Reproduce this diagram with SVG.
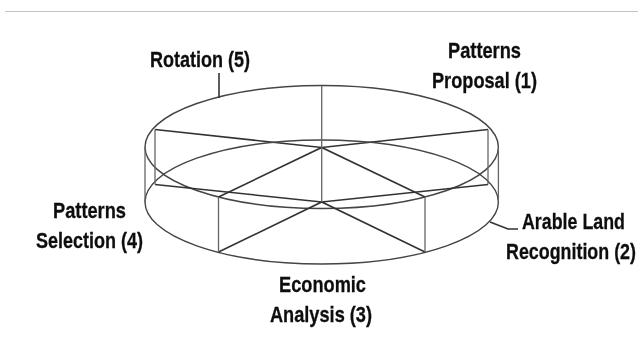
<svg xmlns="http://www.w3.org/2000/svg" width="638" height="347" viewBox="0 0 638 347">
<defs><filter id="b" x="-5%" y="-20%" width="110%" height="140%"><feGaussianBlur stdDeviation="0.45"/></filter></defs>
<style>
.l{fill:none;stroke:#444;stroke-width:1.4}
.s{fill:none;stroke:#333;stroke-width:1.6}
.v{fill:none;stroke:#666;stroke-width:1.3}
text{font-family:"Liberation Sans",Arial,sans-serif;font-weight:bold;font-size:22px;fill:#111;stroke:#111;stroke-width:0.3}
.t{filter:url(#b)}
</style>
<rect width="638" height="347" fill="#fff"/>
<line x1="5" y1="11.500" x2="638" y2="11.500" stroke="#c4c4c4" stroke-width="1"/>
<g id="connectors" filter="url(#b)">
<g id="disc-top">
<ellipse class="l" cx="321.700" cy="147" rx="176.700" ry="61.500"/>
<path class="s" d="M155 129.500L321.700 147.500L488 129.500M218.500 197L321.700 147.500L425 197"/>
</g>
<g id="disc-bottom">
<ellipse class="l" cx="321.700" cy="202" rx="176.700" ry="62"/>
<path class="s" d="M155 184.500L321.700 202L488 184.500M218.500 252L321.700 202L425 252"/>
</g>
<path class="v" d="M321.700 86V202M155 129.500V184.500M488 129.500V184.500M218.500 197V252M425 197V252M145 147V202M498.400 147V202"/>
<path class="s" d="M219 73V98M490 222L508 229H518"/>
</g>
<g id="n5" class="t"><text x="150" y="67" textLength="100" lengthAdjust="spacingAndGlyphs">Rotation (5)</text></g>
<g id="n1" class="t"><text x="448" y="58" textLength="73" lengthAdjust="spacingAndGlyphs">Patterns</text><text x="432" y="88" textLength="105" lengthAdjust="spacingAndGlyphs">Proposal (1)</text></g>
<g id="n2" class="t"><text transform="translate(522 229) scale(.82 1)" textLength="125.600" lengthAdjust="spacingAndGlyphs">Arable Land</text><text transform="translate(506 259) scale(.82 1)" textLength="158.500" lengthAdjust="spacingAndGlyphs">Recognition (2)</text></g>
<g id="n3" class="t"><text x="279" y="292" textLength="87" lengthAdjust="spacingAndGlyphs">Economic</text><text x="270" y="322" textLength="102" lengthAdjust="spacingAndGlyphs">Analysis (3)</text></g>
<g id="n4" class="t"><text x="53" y="218" textLength="73" lengthAdjust="spacingAndGlyphs">Patterns</text><text x="36" y="248" textLength="107" lengthAdjust="spacingAndGlyphs">Selection (4)</text></g>
</svg>
